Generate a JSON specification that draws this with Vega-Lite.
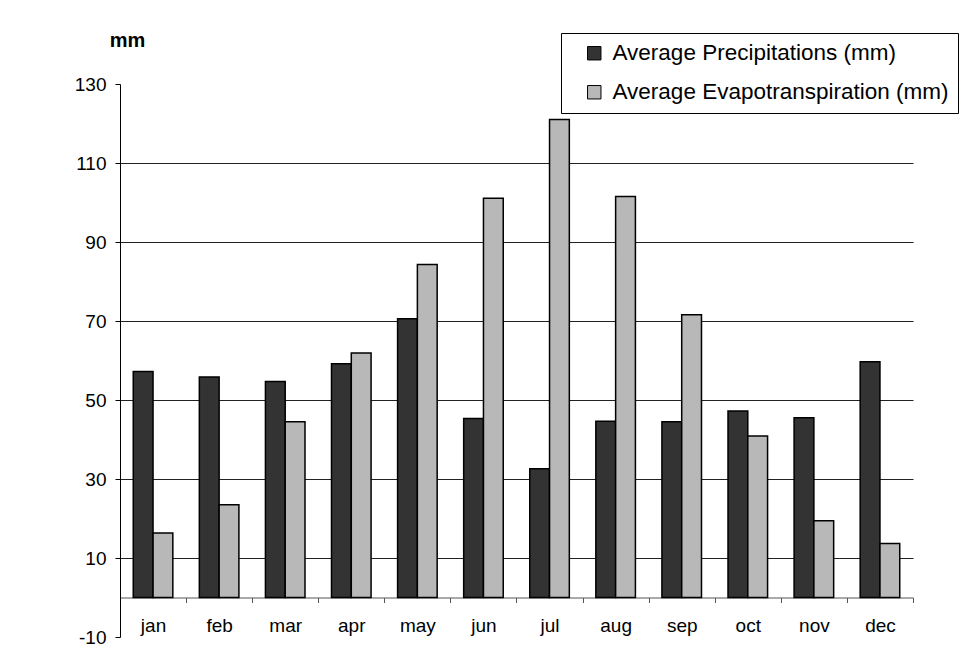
{
  "$schema": "https://vega.github.io/schema/vega-lite/v6.json",
  "width": 793,
  "height": 553,
  "autosize": "none",
  "padding": {"left": 120, "top": 84, "right": 52, "bottom": 33},
  "background": "white",
  "config": {"view": {"stroke": null}, "font": "Liberation Sans"},
  "data": {
    "values": [
      {"month": "jan", "series": "Average Precipitations (mm)", "value": 57.2},
      {"month": "feb", "series": "Average Precipitations (mm)", "value": 55.8},
      {"month": "mar", "series": "Average Precipitations (mm)", "value": 54.7},
      {"month": "apr", "series": "Average Precipitations (mm)", "value": 59.2},
      {"month": "may", "series": "Average Precipitations (mm)", "value": 70.6},
      {"month": "jun", "series": "Average Precipitations (mm)", "value": 45.3},
      {"month": "jul", "series": "Average Precipitations (mm)", "value": 32.6},
      {"month": "aug", "series": "Average Precipitations (mm)", "value": 44.6},
      {"month": "sep", "series": "Average Precipitations (mm)", "value": 44.5},
      {"month": "oct", "series": "Average Precipitations (mm)", "value": 47.2},
      {"month": "nov", "series": "Average Precipitations (mm)", "value": 45.5},
      {"month": "dec", "series": "Average Precipitations (mm)", "value": 59.7},
      {"month": "jan", "series": "Average Evapotranspiration (mm)", "value": 16.3},
      {"month": "feb", "series": "Average Evapotranspiration (mm)", "value": 23.5},
      {"month": "mar", "series": "Average Evapotranspiration (mm)", "value": 44.5},
      {"month": "apr", "series": "Average Evapotranspiration (mm)", "value": 61.9},
      {"month": "may", "series": "Average Evapotranspiration (mm)", "value": 84.3},
      {"month": "jun", "series": "Average Evapotranspiration (mm)", "value": 101.1},
      {"month": "jul", "series": "Average Evapotranspiration (mm)", "value": 121.0},
      {"month": "aug", "series": "Average Evapotranspiration (mm)", "value": 101.5},
      {"month": "sep", "series": "Average Evapotranspiration (mm)", "value": 71.6},
      {"month": "oct", "series": "Average Evapotranspiration (mm)", "value": 40.9},
      {"month": "nov", "series": "Average Evapotranspiration (mm)", "value": 19.4},
      {"month": "dec", "series": "Average Evapotranspiration (mm)", "value": 13.7}
    ]
  },
  "mark": {"type": "bar", "stroke": "black", "strokeWidth": 1.5, "opacity": 1},
  "encoding": {
    "x": {
      "field": "month",
      "type": "nominal",
      "sort": ["jan", "feb", "mar", "apr", "may", "jun", "jul", "aug", "sep", "oct", "nov", "dec"],
      "scale": {"paddingInner": 0, "paddingOuter": 0},
      "axis": {
        "title": null,
        "labelAngle": 0,
        "orient": "bottom",
        "offset": -39.5,
        "tickBand": "extent",
        "tickSize": 5,
        "labelPadding": 14,
        "labelFontSize": 19,
        "labelColor": "black",
        "domainColor": "#555555",
        "tickColor": "#555555",
        "grid": false
      }
    },
    "xOffset": {
      "field": "series",
      "type": "nominal",
      "sort": ["Average Precipitations (mm)", "Average Evapotranspiration (mm)"],
      "scale": {"paddingInner": 0, "paddingOuter": 0.67}
    },
    "y": {
      "field": "value",
      "type": "quantitative",
      "scale": {"domain": [-10, 130], "nice": false},
      "axis": {
        "values": [-10, 10, 30, 50, 70, 90, 110, 130],
        "labelExpr": "'' + datum.value",
        "title": "mm",
        "titleAngle": 0,
        "titleX": 7,
        "titleY": -38,
        "titleAlign": "center",
        "titleBaseline": "alphabetic",
        "titleFontSize": 20,
        "titleFontWeight": "bold",
        "titleColor": "black",
        "labelFontSize": 19,
        "labelColor": "black",
        "labelPadding": 9,
        "tickSize": 5,
        "tickColor": "black",
        "domainColor": "black",
        "grid": true,
        "gridColor": "#222222",
        "gridOpacity": {"condition": {"test": "datum.value == 130 || datum.value == -10", "value": 0}, "value": 1}
      }
    },
    "color": {
      "field": "series",
      "type": "nominal",
      "sort": ["Average Precipitations (mm)", "Average Evapotranspiration (mm)"],
      "scale": {"range": ["#333333", "#b8b8b8"]},
      "legend": {
        "orient": "none",
        "legendX": 441,
        "legendY": -51,
        "title": null,
        "strokeColor": "black",
        "fillColor": "white",
        "padding": 9,
        "symbolType": "square",
        "symbolSize": 180,
        "symbolStrokeColor": "black",
        "symbolStrokeWidth": 1,
        "symbolOpacity": 1,
        "symbolOffset": 13,
        "labelFontSize": 22.5,
        "labelColor": "black",
        "labelOffset": 7,
        "labelLimit": 600,
        "rowPadding": 16
      }
    }
  }
}
